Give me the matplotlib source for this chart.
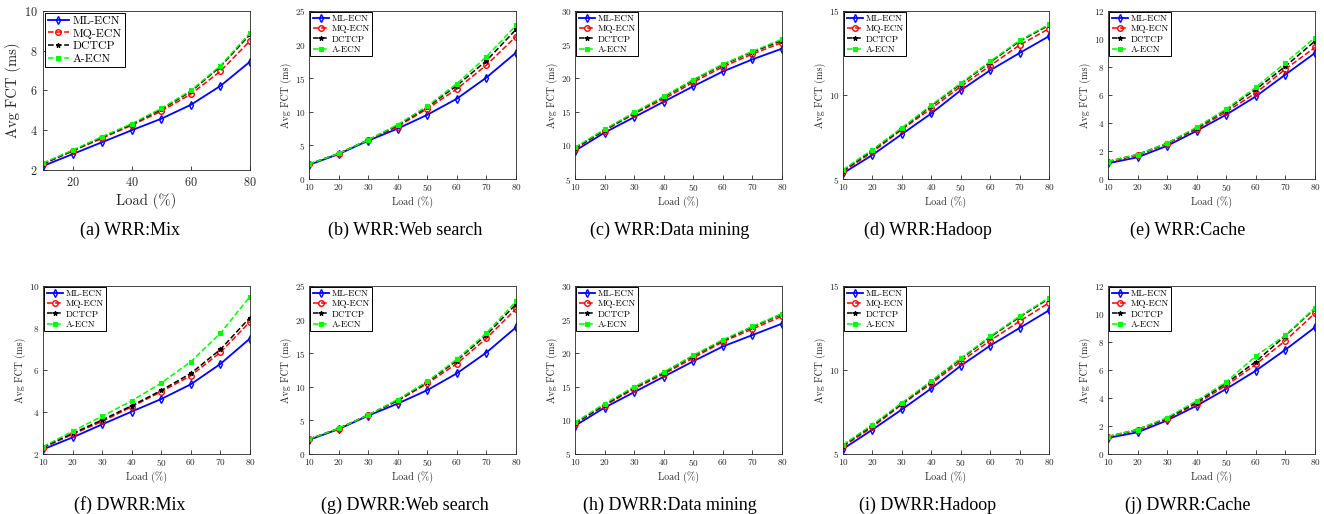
import numpy as np
import matplotlib
matplotlib.use('Agg')
import matplotlib.pyplot as plt

plt.rcParams['font.family'] = ['cmr10', 'DejaVu Serif']
plt.rcParams['axes.formatter.use_mathtext'] = True
plt.rcParams['axes.unicode_minus'] = False

load = [10, 20, 30, 40, 50, 60, 70, 80]
schemes = ['ML-ECN', 'MQ-ECN', 'DCTCP', 'A-ECN']

# WRR
wrr_mix = [[2.2, 2.8, 3.4, 4.0, 4.58, 5.28, 6.23, 7.45],
           [2.3, 2.95, 3.6, 4.25, 4.96, 5.82, 6.97, 8.5],
           [2.32, 2.97, 3.65, 4.3, 5.05, 5.95, 7.2, 8.82],
           [2.35, 3.0, 3.68, 4.33, 5.1, 6.0, 7.25, 8.9]]
wrr_web = [[2.1, 3.7, 5.7, 7.5, 9.55, 11.95, 15.1, 18.8],
           [2.2, 3.75, 5.8, 7.8, 10.45, 13.4, 16.95, 21.2],
           [2.2, 3.8, 5.8, 8.0, 10.7, 13.9, 17.6, 22.25],
           [2.2, 3.8, 5.8, 8.1, 10.85, 14.2, 18.2, 22.85]]
wrr_dm = [[9.2, 11.9, 14.2, 16.5, 18.8, 21.0, 22.8, 24.4],
          [9.5, 12.2, 14.7, 16.9, 19.4, 21.7, 23.6, 25.3],
          [9.6, 12.3, 14.8, 17.2, 19.7, 22.0, 23.9, 25.6],
          [9.7, 12.4, 14.9, 17.3, 19.8, 22.1, 24.0, 25.8]]
wrr_hadoop = [[5.34, 6.43, 7.67, 8.9, 10.28, 11.47, 12.5, 13.5],
              [5.45, 6.6, 7.95, 9.2, 10.5, 11.75, 12.97, 13.95],
              [5.5, 6.7, 8.0, 9.35, 10.65, 11.95, 13.2, 14.15],
              [5.55, 6.75, 8.05, 9.4, 10.7, 12.0, 13.25, 14.2]]
wrr_cache = [[1.12, 1.55, 2.37, 3.44, 4.6, 5.9, 7.46, 9.0],
             [1.2, 1.7, 2.5, 3.55, 4.8, 6.15, 7.85, 9.4],
             [1.25, 1.75, 2.55, 3.65, 4.95, 6.4, 8.05, 9.85],
             [1.25, 1.75, 2.55, 3.7, 5.0, 6.55, 8.3, 10.1]]

# DWRR
dwrr_mix = [[2.22, 2.79, 3.41, 4.02, 4.62, 5.32, 6.29, 7.5],
            [2.3, 2.94, 3.55, 4.25, 4.97, 5.73, 6.84, 8.3],
            [2.32, 2.98, 3.62, 4.3, 5.03, 5.84, 6.98, 8.5],
            [2.35, 3.08, 3.8, 4.53, 5.38, 6.4, 7.75, 9.5]]
dwrr_web = [[2.1, 3.7, 5.7, 7.5, 9.5, 12.0, 15.1, 18.85],
            [2.2, 3.75, 5.8, 7.9, 10.5, 13.45, 17.2, 21.6],
            [2.2, 3.8, 5.8, 8.0, 10.7, 13.9, 17.7, 22.3],
            [2.2, 3.8, 5.8, 8.1, 10.8, 14.1, 18.0, 22.7]]
dwrr_dm = [[9.2, 11.9, 14.2, 16.5, 18.8, 21.0, 22.7, 24.4],
           [9.5, 12.2, 14.7, 16.9, 19.3, 21.7, 23.6, 25.5],
           [9.6, 12.3, 14.9, 17.1, 19.6, 21.9, 23.9, 25.8],
           [9.7, 12.5, 15.0, 17.2, 19.7, 22.0, 24.0, 25.9]]
dwrr_hadoop = [[5.3, 6.45, 7.65, 8.9, 10.25, 11.45, 12.5, 13.55],
               [5.45, 6.6, 7.95, 9.2, 10.5, 11.75, 12.9, 14.0],
               [5.5, 6.7, 8.0, 9.3, 10.65, 11.95, 13.15, 14.25],
               [5.55, 6.75, 8.05, 9.35, 10.7, 12.0, 13.2, 14.3]]
dwrr_cache = [[1.15, 1.55, 2.4, 3.45, 4.65, 5.95, 7.45, 9.05],
              [1.2, 1.7, 2.5, 3.6, 4.9, 6.4, 8.1, 10.05],
              [1.25, 1.75, 2.55, 3.7, 5.05, 6.6, 8.45, 10.4],
              [1.25, 1.75, 2.6, 3.8, 5.15, 7.0, 8.5, 10.45]]

captions = ['(a) WRR:Mix', '(b) WRR:Web search', '(c) WRR:Data mining',
            '(d) WRR:Hadoop', '(e) WRR:Cache',
            '(f) DWRR:Mix', '(g) DWRR:Web search', '(h) DWRR:Data mining',
            '(i) DWRR:Hadoop', '(j) DWRR:Cache']
panels = [wrr_mix, wrr_web, wrr_dm, wrr_hadoop, wrr_cache,
          dwrr_mix, dwrr_web, dwrr_dm, dwrr_hadoop, dwrr_cache]
ylims = [(2, 10), (0, 25), (5, 30), (5, 15), (0, 12)] * 2
yticks = [[2, 4, 6, 8, 10], [0, 5, 10, 15, 20, 25], [5, 10, 15, 20, 25, 30],
          [5, 10, 15], [0, 2, 4, 6, 8, 10, 12]] * 2

styles = [dict(color='#0000ff', ls='-', marker='d', mfc='none', ms=4, lw=1.3, mew=1.0),
          dict(color='#ff0000', ls='--', marker='o', mfc='none', ms=4, lw=1.1, mew=1.0),
          dict(color='#000000', ls='--', marker='*', ms=3.5, lw=1.1, mew=0.8),
          dict(color='#00ff00', ls='--', marker='s', ms=3.5, lw=1.1, mew=0.8)]

W, H = 1324, 514
fig = plt.figure(figsize=(W / 100, H / 100), dpi=100)

# axes boxes in pixels: left, right, top, bottom
lefts = [43, 309, 575, 843, 1108]
rights = [250, 516, 782, 1049, 1315]
centers = [130, 405, 670, 928, 1188]
grey = '#262626'

for k in range(10):
    row, col = divmod(k, 5)
    big = (k == 0)
    top = 11 if row == 0 else 286
    bottom = (170 if big else 179) if row == 0 else 454
    l, r = lefts[col], rights[col]
    ax = fig.add_axes([l / W, 1 - bottom / H, (r - l) / W, (bottom - top) / H])
    for s, name, vals in zip(styles, schemes, panels[k]):
        ax.plot(load, vals, label=name, **s)
    ax.set_xlim(10, 80)
    ax.set_ylim(*ylims[k])
    ax.set_yticks(yticks[k])
    if big:
        ax.set_xticks([20, 40, 60, 80])
        tfs, lfs, gfs, tpad, xlp = 8.8, 10.5, 8.5, 4, 3
    else:
        ax.set_xticks(load)
        tfs, lfs, gfs, tpad, xlp = 6.6, 7.2, 6.6, 2.5, 2
    ax.tick_params(direction='in', labelsize=tfs, colors=grey, length=3, width=0.6, pad=tpad)
    for sp in ax.spines.values():
        sp.set_linewidth(0.6)
        sp.set_color(grey)
    ax.set_xlabel('Load (%)', fontsize=lfs, color=grey, labelpad=xlp)
    ax.set_ylabel('Avg FCT (ms)', fontsize=lfs, color=grey, labelpad=2)
    leg = ax.legend(loc='upper left', fontsize=gfs, fancybox=False, framealpha=1,
                    edgecolor='black', borderpad=0.25, labelspacing=0.2,
                    handlelength=1.8, handletextpad=0.3, borderaxespad=0.15)
    leg.get_frame().set_linewidth(0.7)
    ycap = 230 if row == 0 else 505
    fig.text(centers[col] / W, 1 - ycap / H, captions[k], ha='center', va='center',
             fontsize=13, family='Liberation Serif')

fig.savefig('out.png', dpi=100)
